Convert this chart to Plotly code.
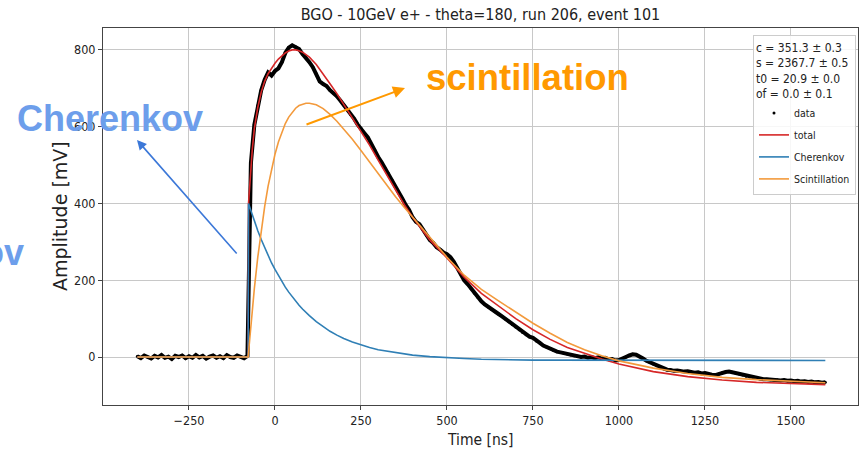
import plotly.graph_objects as go

# ---------------- data ----------------
# measured waveform, sampled every 10 ns from -400 ns to 1600 ns
T_DATA = list(range(-400, 1601, 10))
AMP_DATA = [
    2, -3, 4, 0, -4, 3, -1, 5, -2, 1,
    -5, 3, 0, 4, -3, 2, -2, 5, -1, 3,
    -4, 1, 4, -2, 2, -3, 5, 0, -2, 4,
    1, -3, 3,
    505, 605, 655, 695, 722, 741, 733, 745, 752, 768,
    792, 806, 812, 808, 802, 789, 780, 768, 755, 738,
    718, 711, 706, 695, 688, 679, 668, 657, 646, 632,
    621, 606, 596, 583, 572, 553, 540, 521, 507, 492,
    478, 461, 444, 428, 413, 396, 383, 364, 352, 346,
    333, 318, 305, 297, 286, 280, 272, 268, 260, 248,
    232, 216, 200, 190, 178, 166, 155, 145, 137, 130,
    124, 118, 112, 106, 99, 92, 85, 78, 71, 64,
    58, 53, 50, 42, 37, 30, 26, 22, 17, 14,
    12, 10, 8, 5, 3, 2, 0, 1, -2, 0,
    -3, -1, -4, -2, -6, -5, -9, -8, -5, 0,
    4, 7, 6, 2, -4, -10, -14, -18, -23, -27,
    -31, -33, -34, -36, -35, -37, -38, -37, -40, -41,
    -40, -43, -42, -45, -46, -47, -44, -41, -39, -38,
    -40, -42, -44, -47, -50, -52, -54, -55, -57, -58,
    -58, -59, -60, -59, -61, -60, -62, -61, -63, -62,
    -64, -63, -65, -64, -66, -65, -67, -66,
]

# fitted curves, read at these times
T_FIT = [-400, -78, -77, -72, -66, -60, -50, -40, -30, -20, -10,
         0, 10, 20, 30, 40, 50, 60, 70, 80, 90, 100,
         120, 140, 160, 180, 200, 225, 250, 275, 300, 325, 350, 375, 400,
         450, 500, 550, 600, 650, 700, 750, 800, 850, 900, 950, 1000,
         1100, 1200, 1300, 1400, 1500, 1600]
TOTAL = [0, 0, 400, 470, 540, 595, 650, 690, 718, 738, 752,
         765, 776, 785, 792, 797, 800, 800, 798, 794, 788, 781,
         762, 738, 712, 686, 658, 625, 590, 552, 513, 474, 435, 398, 364,
         305, 258, 208, 166, 133, 100, 71, 46, 25, 9, -5, -18,
         -38, -51, -60, -66, -69, -72]
CHERENKOV = [0, 0, 400, 386, 369, 354, 329, 306, 284, 264, 245,
             228, 212, 197, 182, 169, 157, 146, 135, 125, 116, 108,
             92, 79, 67, 57, 48, 39, 31, 25, 19, 15, 11, 8, 5,
             1, -2, -4, -6, -7, -7, -8, -8, -8, -9, -9, -9,
             -9, -9, -9, -9, -9, -9]
SCINT = [0, 0, 11, 64, 123, 178, 260, 331, 392, 445, 490,
         528, 560, 586, 608, 625, 638, 648, 655, 659, 661, 661,
         657, 647, 632, 614, 594, 567, 538, 508, 477, 446, 418, 391, 365,
         312, 260, 213, 176, 146, 116, 88, 62, 38, 19, 3, -10,
         -29, -43, -53, -59, -63, -67]

X_TICKS = [-250, 0, 250, 500, 750, 1000, 1250, 1500]
Y_TICKS = [0, 200, 400, 600, 800]
TITLE = "BGO - 10GeV e+ - theta=180, run 206, event 101"
FIT_TEXT = ["c = 351.3 \u00b1 0.3", "s = 2367.7 \u00b1 0.5",
            "t0 = 20.9 \u00b1 0.0", "of = 0.0 \u00b1 0.1"]

# ---------------- figure ----------------
FONT = "DejaVu Sans Condensed, DejaVu Sans, Liberation Sans, sans-serif"
WIDE = "DejaVu Sans, Liberation Sans, sans-serif"
BOLD = "Liberation Sans, Arial, sans-serif"

fig = go.Figure()
fig.add_trace(go.Scatter(x=T_DATA, y=AMP_DATA, mode="lines",
                         line=dict(color="black", width=4),
                         showlegend=False, hoverinfo="skip"))
fig.add_trace(go.Scatter(x=T_DATA, y=AMP_DATA, mode="markers", name="data",
                         legendgroup="g1", marker=dict(color="black", size=3)))
fig.add_trace(go.Scatter(x=T_FIT, y=TOTAL, mode="lines", name="total",
                         legendgroup="g2", line=dict(color="#d62728", width=1.6)))
fig.add_trace(go.Scatter(x=T_FIT, y=CHERENKOV, mode="lines", name="Cherenkov",
                         legendgroup="g3", line=dict(color="#2f7fb5", width=1.6)))
fig.add_trace(go.Scatter(x=T_FIT, y=SCINT, mode="lines", name="Scintillation",
                         legendgroup="g4", line=dict(color="#f39a3c", width=1.6)))

L, R, T, B = 103, 5, 28, 47
W, H = 863, 452
pw, ph = W - L - R, H - T - B


def px(x):
    return (x - L) / pw


def py(y):
    return (H - B - y) / ph


axis_common = dict(showgrid=True, gridcolor="#c8c8c8", gridwidth=1,
                   showline=True, linecolor="#444", linewidth=1, mirror=True,
                   ticks="outside", ticklen=4, tickcolor="#444",
                   tickfont=dict(family=FONT, size=12.5, color="#222"),
                   zeroline=False)

fig.update_layout(
    width=W, height=H,
    margin=dict(l=L, r=R, t=T, b=B),
    paper_bgcolor="white", plot_bgcolor="white",
    title=dict(text=TITLE, x=0.5, xref="paper", xanchor="center",
               y=(H - 14) / H, yanchor="middle",
               font=dict(family=FONT, size=16, color="#222")),
    xaxis=dict(range=[-500, 1695], tickvals=X_TICKS, **axis_common),
    yaxis=dict(range=[-125, 857], tickvals=Y_TICKS, **axis_common),
    legend=dict(x=px(856), xanchor="right", y=py(35), yanchor="top",
                bgcolor="rgba(255,255,255,0.85)", bordercolor="#cccccc",
                borderwidth=1, font=dict(family=FONT, size=10.5, color="#222"),
                title=dict(text="<br>".join(FIT_TEXT),
                           font=dict(family=FONT, size=12, color="#222")),
                tracegroupgap=3, itemwidth=30),
    showlegend=True,
)


def label(text, x, y, size, color, family=FONT, angle=0, xanchor="center"):
    return dict(text=text, x=px(x), y=py(y), xref="paper", yref="paper",
                xanchor=xanchor, yanchor="middle", showarrow=False,
                textangle=angle, font=dict(family=family, size=size, color=color))


ann = [
    label("Time [ns]", 480, 440, 15.5, "#222"),
    label("Amplitude [mV]", 60, 216, 19, "#222", family=WIDE, angle=-90),
    # overlay labels
    label("<b>Cherenkov</b>", 110, 118, 36, "#6d9eeb", family=BOLD),
    label("<b>Cherenkov</b>", 26, 252, 36, "#6d9eeb", family=BOLD, xanchor="right"),
    label("<b>scintillation</b>", 527, 78, 36.5, "#ff9900", family=BOLD),
    # arrows
    dict(text="", x=px(137), y=py(140), xref="paper", yref="paper",
         showarrow=True, ax=101, ay=115, arrowhead=2, arrowsize=1.2,
         arrowwidth=1.6, arrowcolor="#3c78d8"),
    dict(text="", x=px(405), y=py(88), xref="paper", yref="paper",
         showarrow=True, ax=-100, ay=37, arrowhead=2, arrowsize=1.2,
         arrowwidth=2, arrowcolor="#ff9900"),
]
fig.update_layout(annotations=ann)

fig.write_html("out.html",
               config={"displayModeBar": False},
               post_script="document.body.style.margin='0';"
                           "document.body.style.overflow='hidden';")
